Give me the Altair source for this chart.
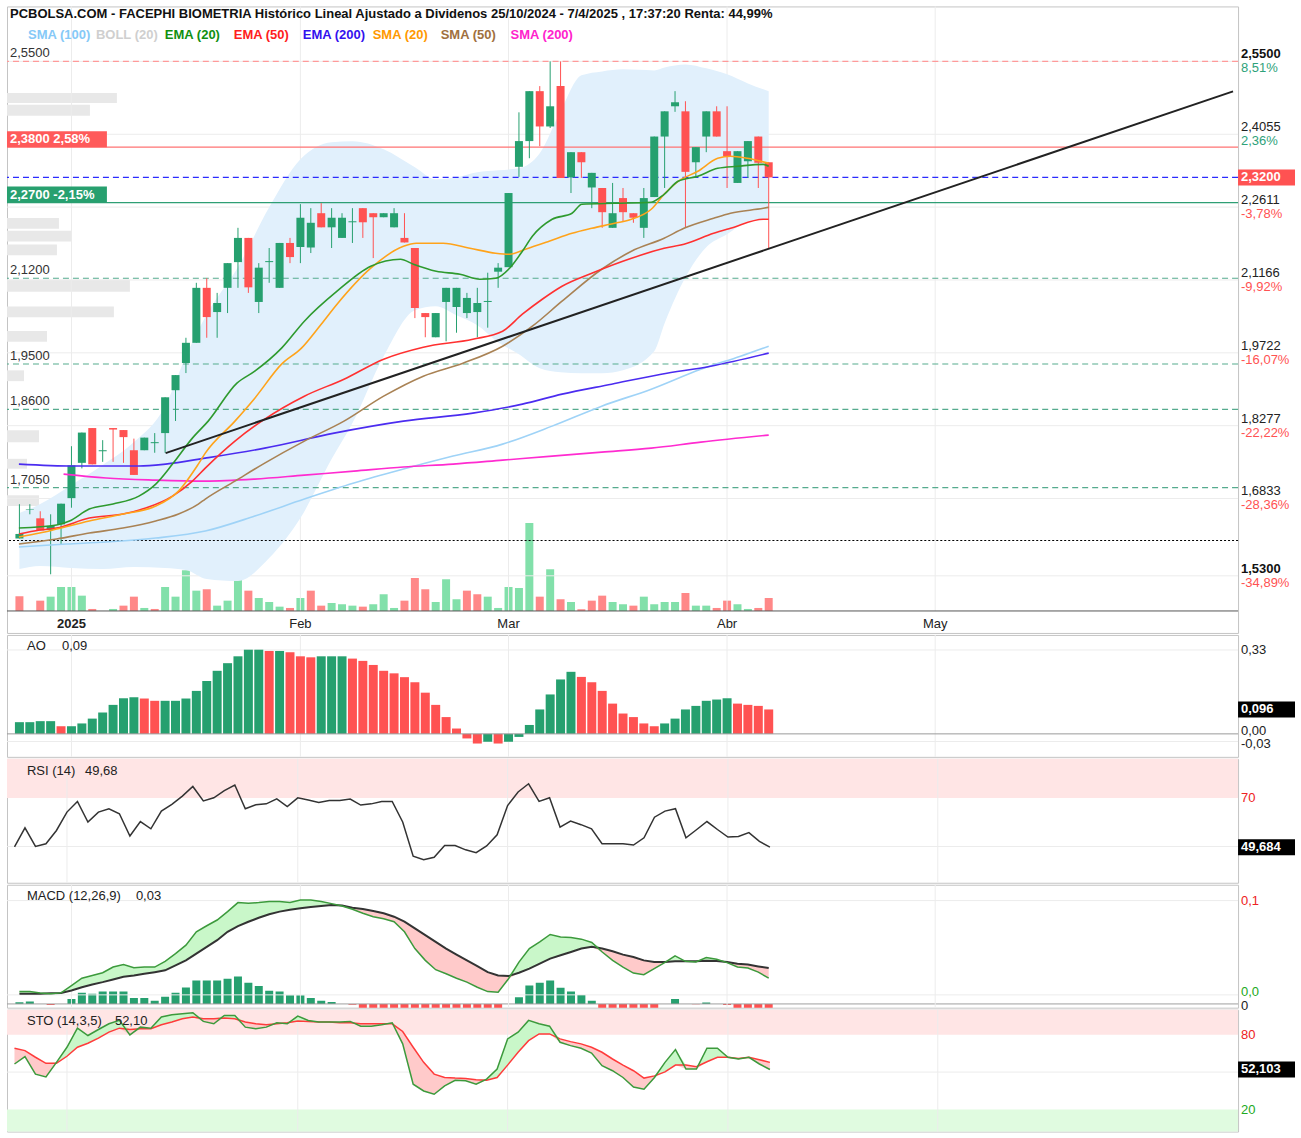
import altair as alt
import pandas as pd

# ------------------------------------------------------------------
# Data (x = trading-day index, 0 = 2 Jan 2025)
# ------------------------------------------------------------------
day = list(range(-5, 68))

open_p = [
    1.604, 1.661, 1.644, 1.621, 1.632, 1.684, 1.754, 1.823, 1.777, 1.823,
    1.819, 1.779, 1.779, 1.793, 1.813, 1.898, 1.952, 1.992, 2.101, 2.053,
    2.101, 2.152, 2.200, 2.073, 2.152, 2.101, 2.190, 2.182, 2.181, 2.249,
    2.221, 2.200, 2.231, 2.259, 2.249, 2.241, 2.221, 2.200, 2.180, 2.051,
    2.003, 2.073, 2.063, 2.051, 2.053, 2.073, 2.133, 2.142, 2.341, 2.392,
    2.491, 2.421, 2.501, 2.320, 2.370, 2.300, 2.299, 2.220, 2.279, 2.249,
    2.220, 2.281, 2.401, 2.461, 2.451, 2.350, 2.401, 2.451, 2.372, 2.309,
    2.352, 2.401, 2.350]
high_p = [
    1.672, 1.672, 1.658, 1.652, 1.673, 1.787, 1.814, 1.823, 1.799, 1.823,
    1.819, 1.802, 1.804, 1.813, 1.884, 1.928, 2.002, 2.111, 2.120, 2.091,
    2.150, 2.220, 2.200, 2.150, 2.180, 2.190, 2.200, 2.267, 2.259, 2.269,
    2.259, 2.249, 2.259, 2.259, 2.249, 2.249, 2.259, 2.249, 2.180, 2.051,
    2.051, 2.101, 2.101, 2.091, 2.101, 2.131, 2.150, 2.289, 2.449, 2.491,
    2.501, 2.550, 2.550, 2.370, 2.370, 2.329, 2.299, 2.309, 2.299, 2.249,
    2.299, 2.401, 2.451, 2.491, 2.471, 2.380, 2.451, 2.461, 2.461, 2.372,
    2.392, 2.401, 2.350]
low_p = [
    1.604, 1.652, 1.620, 1.533, 1.593, 1.665, 1.743, 1.751, 1.756, 1.756,
    1.754, 1.730, 1.779, 1.774, 1.774, 1.837, 1.932, 1.992, 2.002, 2.002,
    2.051, 2.101, 2.091, 2.051, 2.111, 2.101, 2.150, 2.150, 2.170, 2.221,
    2.180, 2.200, 2.190, 2.200, 2.160, 2.241, 2.221, 2.191, 2.041, 2.003,
    2.003, 1.995, 2.012, 2.041, 2.003, 2.022, 2.101, 2.142, 2.321, 2.358,
    2.382, 2.418, 2.319, 2.289, 2.319, 2.259, 2.220, 2.220, 2.233, 2.230,
    2.200, 2.281, 2.299, 2.450, 2.220, 2.319, 2.370, 2.401, 2.299, 2.309,
    2.319, 2.299, 2.178]
close_p = [
    1.613, 1.662, 1.620, 1.629, 1.673, 1.749, 1.814, 1.751, 1.779, 1.820,
    1.805, 1.730, 1.804, 1.795, 1.884, 1.928, 1.992, 2.101, 2.043, 2.071,
    2.150, 2.200, 2.102, 2.141, 2.154, 2.190, 2.162, 2.240, 2.230, 2.221,
    2.240, 2.240, 2.233, 2.231, 2.241, 2.249, 2.249, 2.191, 2.061, 2.043,
    2.051, 2.101, 2.101, 2.081, 2.071, 2.075, 2.141, 2.289, 2.392, 2.491,
    2.421, 2.461, 2.319, 2.370, 2.350, 2.329, 2.251, 2.249, 2.251, 2.240,
    2.279, 2.401, 2.451, 2.469, 2.331, 2.380, 2.451, 2.401, 2.362, 2.372,
    2.392, 2.349, 2.320]
# volume in thousands of shares
volume = [
    368, 0, 258, 358, 600, 600, 383, 50, 0, 50,
    133, 358, 75, 50, 600, 358, 1018, 508, 543, 133,
    258, 1018, 508, 325, 225, 108, 75, 325, 508, 133,
    200, 168, 133, 108, 168, 418, 75, 258, 825, 543,
    225, 793, 293, 508, 418, 358, 75, 600, 575, 2200,
    358, 1043, 293, 225, 43, 258, 383, 225, 168, 133,
    358, 168, 225, 225, 450, 133, 133, 75, 258, 168,
    50, 75, 325]
vol_dir = ("RRRGGGGRGG" "RRGRGGGGRG" "GGRGGGRGRR" "GGGRGGGRRR"
           "GGGRRGGGGG" "RGRGRRRGGR" "GGGGRGGRRG" "GRR")

# moving averages (day index, value)
sma100_x = [-5.05, -0.48, 3.33, 8.1, 12.86, 17.62, 22.38, 27.14, 31.9, 36.67, 41.43, 46.19, 50.95, 55.71, 60.48, 64.29, 67.0]
sma100_y = [1.5871, 1.5930, 1.5970, 1.6049, 1.6188, 1.6485, 1.6822, 1.7139, 1.7416, 1.7674, 1.7911, 1.8268, 1.8664, 1.9001, 1.9397, 1.9655, 1.9853]
ema20_x = [-5.05, -1.43, -0.19, 1.71, 4.0, 6.48, 8.1, 9.71, 11.62, 13.14, 15.9, 17.62, 20.19, 22.38, 25.52, 28.76, 31.62, 32.86, 35.05, 37.33, 39.24, 40.76, 42.1, 43.33, 44.29, 46.19, 48.1, 49.05, 52.19, 55.71, 56.95, 58.29, 60.19, 62.1, 64.0, 66.48, 67.0]
ema20_y = [1.6247, 1.6306, 1.6386, 1.6624, 1.6723, 1.6881, 1.7119, 1.7515, 1.8030, 1.8367, 1.9120, 1.9358, 1.9814, 2.0349, 2.0943, 2.1438, 2.1577, 2.1478, 2.1339, 2.1280, 2.1181, 2.1200, 2.1399, 2.1736, 2.2033, 2.2370, 2.2488, 2.2667, 2.2687, 2.2707, 2.2865, 2.3122, 2.3222, 2.3380, 2.3420, 2.3459, 2.3420]
ema50_x = [-5.05, -3.05, -1.43, 1.71, 4.95, 7.14, 9.71, 11.62, 12.86, 15.71, 18.57, 22.38, 26.19, 30.0, 33.81, 38.57, 41.43, 43.33, 45.24, 47.14, 50.0, 53.81, 56.95, 58.86, 61.71, 63.33, 66.48, 67.0]
ema50_y = [1.6128, 1.6208, 1.6247, 1.6445, 1.6524, 1.6643, 1.6881, 1.7178, 1.7436, 1.7971, 1.8407, 1.8862, 1.9199, 1.9596, 1.9833, 1.9992, 2.0150, 2.0487, 2.0784, 2.1042, 2.1300, 2.1597, 2.1795, 2.1874, 2.2092, 2.2191, 2.2370, 2.2370]
ema200_x = [-5.05, 0.19, 6.48, 9.05, 12.86, 18.57, 25.24, 31.9, 38.57, 43.33, 47.14, 51.9, 56.67, 61.43, 67.0]
ema200_y = [1.7515, 1.7476, 1.7476, 1.7515, 1.7634, 1.7832, 1.8129, 1.8367, 1.8526, 1.8704, 1.8902, 1.9100, 1.9298, 1.9457, 1.9715]
sma20_x = [-5.05, -3.05, -1.43, 1.71, 4.95, 8.1, 10.29, 12.19, 12.86, 15.71, 17.62, 20.19, 22.1, 24.0, 25.52, 28.76, 31.9, 33.14, 35.71, 38.29, 40.76, 42.1, 43.62, 45.9, 48.1, 50.0, 52.19, 53.81, 55.71, 56.95, 58.29, 60.19, 62.1, 63.33, 64.95, 67.0]
sma20_y = [1.6069, 1.6148, 1.6227, 1.6386, 1.6524, 1.6683, 1.6980, 1.7515, 1.7733, 1.8367, 1.8823, 1.9497, 1.9814, 2.0289, 2.0685, 2.1399, 2.1835, 2.1894, 2.1894, 2.1795, 2.1696, 2.1676, 2.1775, 2.1934, 2.2092, 2.2191, 2.2290, 2.2370, 2.2568, 2.2865, 2.3122, 2.3321, 2.3578, 2.3618, 2.3578, 2.3479]
sma50_x = [-5.05, -1.43, 1.71, 4.95, 8.1, 10.29, 12.19, 12.86, 15.71, 18.57, 22.38, 26.19, 30.0, 33.81, 37.62, 41.43, 44.29, 47.14, 50.95, 53.81, 56.95, 58.86, 61.71, 63.33, 66.48, 67.0]
sma50_y = [1.5930, 1.6029, 1.6148, 1.6247, 1.6386, 1.6524, 1.6723, 1.6822, 1.7178, 1.7535, 1.7971, 1.8367, 1.8862, 1.9259, 1.9516, 1.9853, 2.0249, 2.0745, 2.1379, 2.1736, 2.1993, 2.2191, 2.2389, 2.2488, 2.2587, 2.2607]
sma200_x = [-0.76, 3.33, 8.1, 12.86, 17.62, 22.38, 27.14, 31.9, 36.67, 41.43, 46.19, 50.95, 55.71, 60.48, 67.0]
sma200_y = [1.7317, 1.7238, 1.7198, 1.7178, 1.7218, 1.7297, 1.7376, 1.7456, 1.7515, 1.7594, 1.7674, 1.7753, 1.7832, 1.7951, 1.8090]

# Bollinger band (20)
band_x = [-5, -3, 0, 3, 6, 9, 11, 13, 16, 19, 22, 25, 27, 30, 33, 35, 37, 39, 41, 43, 45, 47, 49, 51, 53, 56, 57, 59, 61, 63, 65, 67]
band_up = [1.6544, 1.6723, 1.7099, 1.7495, 1.7951, 1.8664, 1.9655, 2.0487, 2.1419, 2.2607, 2.3558, 2.3895, 2.3915, 2.3757, 2.3400, 2.3162, 2.3202, 2.3301, 2.3340, 2.3380, 2.3677, 2.4510, 2.5223, 2.5302, 2.5342, 2.5322, 2.5381, 2.5441, 2.5362, 2.5243, 2.5064, 2.4906]
band_lo = [1.5435, 1.5494, 1.5455, 1.5435, 1.5475, 1.5455, 1.5415, 1.5237, 1.5197, 1.5653, 1.6445, 1.7614, 1.8328, 1.9655, 2.0567, 2.0646, 2.0467, 2.0269, 1.9932, 1.9695, 1.9417, 1.9338, 1.9318, 1.9318, 1.9378, 1.9754, 2.0309, 2.1220, 2.1815, 2.2072, 2.2330, 2.2389]

# volume-by-price profile (price range, relative volume)
vp_lo = [2.4747, 2.4490, 2.2211, 2.1953, 2.1676, 2.0943, 2.0428, 1.9933, 1.9140, 1.7911, 1.7376, 1.6624]
vp_hi = [2.4945, 2.4708, 2.2429, 2.2171, 2.1894, 2.1181, 2.0646, 2.0150, 1.9358, 1.8149, 1.7575, 1.6841]
vp_vol = [110, 83, 52, 65, 50, 123, 107, 40, 17, 32, 20, 32]

# trend line
trend_x = [9.05, 111.62]
trend_y = [1.7733, 2.4906]

# horizontal levels
lvl_solid = [2.38, 2.27]
lvl_solid_col = ["#ff7373", "#2e9e74"]
lvl_dash = [2.55, 2.32, 2.12, 1.95, 1.86, 1.705]
lvl_dash_col = ["#ff9a9a", "#2b2bff", "#56ab8e", "#56ab8e", "#56ab8e", "#56ab8e"]
lvl_dot = [1.60]
left_lvls = [2.55, 2.12, 1.95, 1.86, 1.705]
left_lbls = ["2,5500", "2,1200", "1,9500", "1,8600", "1,7050"]
left_box_lvls = [2.38, 2.27]
left_box_lbls = ["2,3800  2,58%", "2,2700  -2,15%"]
left_box_cols = ["#ff5a5a", "#27a06f"]

right_ticks = [2.55, 2.4055, 2.2611, 2.1166, 1.9722, 1.8277, 1.6833, 1.53]
right_lbls = ["2,5500", "2,4055", "2,2611", "2,1166", "1,9722", "1,8277", "1,6833", "1,5300"]
right_pct = ["8,51%", "2,36%", "-3,78%", "-9,92%", "-16,07%", "-22,22%", "-28,36%", "-34,89%"]
last_price = 2.32

month_idx = [0, 22, 42, 63, 83]
month_lbl = ["2025", "Feb", "Mar", "Abr", "May"]

# Awesome oscillator
ao = [
    0.046, 0.046, 0.050, 0.050, 0.030, 0.030, 0.041, 0.060, 0.084, 0.114,
    0.140, 0.144, 0.139, 0.130, 0.130, 0.130, 0.139, 0.169, 0.208, 0.248,
    0.278, 0.305, 0.331, 0.331, 0.326, 0.326, 0.321, 0.305, 0.301, 0.305,
    0.305, 0.305, 0.296, 0.287, 0.271, 0.248, 0.238, 0.223, 0.203, 0.162,
    0.114, 0.066, 0.021, -0.018, -0.038, -0.031, -0.038, -0.031, -0.012, 0.035,
    0.096, 0.155, 0.214, 0.244, 0.224, 0.203, 0.169, 0.119, 0.080, 0.066,
    0.041, 0.030, 0.041, 0.060, 0.096, 0.110, 0.130, 0.135, 0.140, 0.119,
    0.114, 0.110, 0.096]
ao_dir = ("GGGGRGGGGG" "GGRRGGGGGG" "GGGGRGRRRG" "GGRRRRRRRR"
          "RRRRRGRGGG" "GGGGRRRRRR" "RRGGGGGGGR" "RRR")

rsi = [
    49.8, 57.7, 50.0, 51.1, 56.6, 64.2, 68.6, 60.1, 64.2, 65.6,
    63.5, 54.3, 60.3, 57.3, 64.6, 67.4, 70.8, 74.8, 68.8, 70.1,
    73.1, 75.4, 65.6, 67.2, 67.6, 69.7, 66.5, 70.1, 69.2, 68.2,
    69.0, 69.0, 69.6, 67.1, 67.6, 68.6, 68.6, 60.1, 46.0, 44.5,
    45.5, 50.4, 50.4, 48.6, 47.4, 50.2, 54.8, 66.9, 72.5, 75.9,
    68.6, 70.1, 58.0, 60.5, 59.0, 57.3, 51.1, 51.1, 51.1, 50.6,
    53.6, 62.1, 64.6, 65.6, 53.6, 56.9, 60.3, 57.0, 53.9, 54.1,
    55.7, 52.1, 49.7]

macd = [
    0.0035, 0.0035, 0.0021, 0.0011, 0.0021, 0.0099, 0.0177, 0.0206, 0.0235, 0.0295,
    0.0321, 0.0288, 0.0295, 0.0295, 0.0356, 0.0438, 0.0527, 0.0669, 0.0733, 0.0794,
    0.0883, 0.0979, 0.0972, 0.0979, 0.0990, 0.0990, 0.0979, 0.1007, 0.1007, 0.0990,
    0.0968, 0.0943, 0.0908, 0.0865, 0.0829, 0.0808, 0.0776, 0.0669, 0.0491, 0.0366,
    0.0267, 0.0224, 0.0177, 0.0135, 0.0081, 0.0035, 0.0028, 0.0171, 0.0348, 0.0491,
    0.0562, 0.0641, 0.0615, 0.0609, 0.0591, 0.0556, 0.0455, 0.0366, 0.0295, 0.0231,
    0.0214, 0.0278, 0.0342, 0.0413, 0.0356, 0.0348, 0.0395, 0.0377, 0.0342, 0.0295,
    0.0284, 0.0241, 0.0177]
signal = [
    0.0011, 0.0011, 0.0011, 0.0016, 0.0021, 0.0046, 0.0081, 0.0110, 0.0135, 0.0163,
    0.0192, 0.0206, 0.0224, 0.0241, 0.0260, 0.0313, 0.0366, 0.0438, 0.0509, 0.0580,
    0.0669, 0.0730, 0.0776, 0.0818, 0.0855, 0.0883, 0.0904, 0.0919, 0.0933, 0.0943,
    0.0954, 0.0947, 0.0925, 0.0911, 0.0890, 0.0865, 0.0829, 0.0776, 0.0705, 0.0634,
    0.0562, 0.0491, 0.0427, 0.0366, 0.0306, 0.0241, 0.0206, 0.0199, 0.0235, 0.0278,
    0.0331, 0.0385, 0.0420, 0.0455, 0.0491, 0.0509, 0.0491, 0.0463, 0.0427, 0.0402,
    0.0366, 0.0348, 0.0348, 0.0356, 0.0356, 0.0356, 0.0363, 0.0360, 0.0348, 0.0331,
    0.0321, 0.0302, 0.0284]
hist = [
    0.0018, 0.0025, 0.0, -0.0011, 0.0, 0.0053, 0.0118, 0.0107, 0.0131, 0.0131,
    0.0131, 0.0064, 0.0064, 0.0035, 0.0075, 0.0118, 0.0174, 0.0249, 0.0249, 0.0249,
    0.0267, 0.0292, 0.0224, 0.0189, 0.0139, 0.0131, 0.0093, 0.0093, 0.0064, 0.0035,
    0.0021, 0.0, -0.0008, -0.006, -0.006, -0.006, -0.006, -0.006, -0.006, -0.006,
    -0.006, -0.006, -0.006, -0.006, -0.006, -0.006, -0.006, 0.0, 0.0071, 0.0196,
    0.0224, 0.0249, 0.0171, 0.0131, 0.0096, 0.0035, -0.006, -0.006, -0.006, -0.006,
    -0.006, -0.006, 0.0, 0.0053, 0.0, -0.0003, 0.0014, 0.0, -0.0011, -0.006,
    -0.006, -0.006, -0.006]

sto_k = [
    56.5, 62.4, 48.4, 46.2, 57.8, 69.9, 85.2, 79.3, 84.1, 88.7,
    91.4, 79.8, 86.0, 85.2, 94.1, 96.0, 96.8, 97.6, 90.6, 88.7,
    95.4, 95.4, 86.0, 84.7, 86.0, 89.5, 88.7, 94.9, 91.4, 90.1,
    90.1, 90.1, 90.6, 86.8, 86.8, 87.9, 89.5, 72.6, 40.3, 34.9,
    32.3, 39.0, 43.5, 43.0, 40.3, 44.4, 52.4, 76.6, 82.0, 91.4,
    88.7, 86.8, 73.9, 71.2, 69.1, 65.3, 55.1, 51.1, 45.7, 38.1,
    36.3, 45.7, 57.8, 68.0, 52.4, 52.4, 69.1, 69.1, 61.9, 60.5,
    61.9, 56.5, 52.1]
sto_d = [
    69.1, 67.2, 61.9, 57.0, 57.0, 62.7, 69.9, 73.1, 77.2, 82.0,
    85.2, 84.1, 84.7, 84.7, 87.9, 90.1, 92.7, 94.1, 92.7, 92.7,
    93.3, 92.7, 90.1, 88.7, 87.9, 88.7, 89.5, 90.9, 90.6, 90.1,
    90.1, 89.5, 89.5, 88.7, 88.7, 88.7, 88.7, 82.5, 69.9, 57.8,
    48.4, 45.7, 45.2, 44.9, 43.8, 43.5, 45.7, 55.6, 65.9, 75.2,
    80.6, 80.6, 76.6, 74.4, 72.6, 69.9, 65.9, 60.5, 55.6, 51.1,
    45.2, 47.0, 50.2, 55.6, 55.6, 54.3, 58.3, 61.9, 61.9, 61.0,
    61.9, 59.9, 57.8]

TITLE = ("PCBOLSA.COM - FACEPHI BIOMETRIA Histórico Lineal Ajustado a Dividenos "
         "25/10/2024 - 7/4/2025 , 17:37:20 Renta: 44,99%")
legend_lbl = ["SMA (100)", "BOLL (20)", "EMA (20)", "EMA (50)", "EMA (200)", "SMA (20)", "SMA (50)", "SMA (200)"]
legend_col = ["#86c9f7", "#cfcfcf", "#109010", "#ff2020", "#3311ee", "#ff9900", "#a0703e", "#ff22cc"]

# ------------------------------------------------------------------
# Layout / style
# ------------------------------------------------------------------
FONT = "Liberation Sans"
GREEN = "#26a06f"
RED = "#ff5252"
VOL_GREEN = "#82e0aa"
VOL_RED = "#ff8888"
GRID = "#ececec"
W = 1232
H_PLOT = 605                     # price + volume area
H_MAIN = 627                     # plus the month label row
H_AO, H_RSI, H_MACD, H_STO = 122, 124, 123, 122
X_DOM = [-5.714, 111.62]
P_DOM = [1.4167, 2.659]
VOL_DOM = [-550, 15125]
AO_DOM = [-0.0904, 0.389]
RSI_DOM = [35.0, 86.2]
MACD_DOM = [-0.01357, 0.1168]
HIST_DOM = [-0.00395, 0.1264]
STO_DOM = [2.4, 100]
legend_px = [21, 89, 158, 227, 296, 366, 434, 504]

YAX = alt.Axis(orient="right", labels=False, ticks=False, grid=False, domain=True,
               domainColor="#000000", domainWidth=1, title=None)
LIT = lambda f: alt.Color(f"{f}:N", scale=None)


def xenc(field):
    return alt.X(f"{field}:Q", scale=alt.Scale(domain=X_DOM, nice=False, zero=False), axis=None)


def yenc(field, dom, axis=None):
    return alt.Y(f"{field}:Q", scale=alt.Scale(domain=dom, nice=False, zero=False), axis=axis)


def text_layer(df, x, y, color="#222222", size=13, weight="normal", align="left",
               baseline="middle", dy=0):
    return alt.Chart(df).mark_text(font=FONT, fontSize=size, fontWeight=weight, align=align,
                                   baseline=baseline, dy=dy, color=color).encode(x=x, y=y, text="t:N")


def right_box(value, label, dom, half, fill):
    d = pd.DataFrame({"v": [value], "t": [label]})
    base = alt.Chart(d).transform_calculate(lo=f"datum.v - {half}", hi=f"datum.v + {half}")
    r = base.mark_rect(color=fill).encode(x=alt.value(W), x2=alt.value(W + 57),
                                          y=yenc("lo", dom), y2="hi:Q")
    t = base.mark_text(font=FONT, fontSize=13, fontWeight="bold", color="white", align="left",
                       baseline="middle").encode(x=alt.value(W + 3), y=yenc("v", dom), text="t:N")
    return [r, t]


def vrules(h=None):
    ch = alt.Chart(pd.DataFrame({"m": month_idx})).mark_rule(color=GRID)
    if h is None:
        return ch.encode(x=xenc("m"))
    return ch.encode(x=xenc("m"), y=alt.value(0), y2=alt.value(h))


def panel_title(name, value, value_px, h_top=11):
    return [
        text_layer(pd.DataFrame({"t": [name]}), alt.value(20), alt.value(h_top)),
        text_layer(pd.DataFrame({"t": [value]}), alt.value(value_px), alt.value(h_top)),
    ]


# ------------------------------------------------------------------
# Main price panel
# ------------------------------------------------------------------
cdf = pd.DataFrame({"idx": day, "o": open_p, "h": high_p, "l": low_p, "c": close_p, "v": volume})
cdf["cc"] = [GREEN if c >= o else RED for o, c in zip(open_p, close_p)]
cdf["vc"] = [VOL_GREEN if d == "G" else VOL_RED for d in vol_dir]

profile = alt.Chart(pd.DataFrame({"lo": vp_lo, "hi": vp_hi, "pv": vp_vol})).mark_bar(
    orient="horizontal", color="#e8e8e8", opacity=1).encode(
    x=alt.X("pv:Q", scale=alt.Scale(domain=[0, W]), axis=None),
    y=yenc("lo", P_DOM), y2="hi:Q")

vol = alt.Chart(cdf).mark_bar(size=8, opacity=1).encode(
    x=xenc("idx"),
    y=alt.Y("v:Q", scale=alt.Scale(domain=VOL_DOM, nice=False, zero=False), axis=None),
    y2=alt.datum(0), color=LIT("vc"))

hgrid = alt.Chart(pd.DataFrame({"v": right_ticks})).mark_rule(color=GRID).encode(y=yenc("v", P_DOM, YAX))
band = alt.Chart(pd.DataFrame({"x": band_x, "up": band_up, "lo": band_lo})).mark_area(
    color="#e1f0fc", opacity=1, interpolate="monotone").encode(x=xenc("x"), y=yenc("up", P_DOM), y2="lo:Q")

lv_solid = alt.Chart(pd.DataFrame({"v": lvl_solid, "c": lvl_solid_col})).mark_rule(strokeWidth=1.2).encode(
    y=yenc("v", P_DOM), color=LIT("c"))
lv_dash = alt.Chart(pd.DataFrame({"v": lvl_dash, "c": lvl_dash_col})).mark_rule(
    strokeWidth=1.2, strokeDash=[6, 4]).encode(y=yenc("v", P_DOM), color=LIT("c"))
lv_dot = alt.Chart(pd.DataFrame({"v": lvl_dot})).mark_rule(
    strokeWidth=1.2, strokeDash=[2, 2], color="#000000").encode(y=yenc("v", P_DOM))


def ma_line(xs, ys, color, width=1.6):
    return alt.Chart(pd.DataFrame({"x": xs, "y": ys})).mark_line(
        color=color, strokeWidth=width, interpolate="monotone").encode(x=xenc("x"), y=yenc("y", P_DOM))


mas = [
    ma_line(sma100_x, sma100_y, "#9fd3f7"),
    ma_line(sma200_x, sma200_y, "#ff2bd0"),
    ma_line(ema200_x, ema200_y, "#4b2cf0"),
    ma_line(sma50_x, sma50_y, "#a98254"),
    ma_line(ema50_x, ema50_y, "#ff3030"),
    ma_line(sma20_x, sma20_y, "#ffa31a"),
    ma_line(ema20_x, ema20_y, "#2e9a2e"),
]
trend = alt.Chart(pd.DataFrame({"x": trend_x, "y": trend_y})).mark_line(
    color="#222222", strokeWidth=2, clip=True).encode(x=xenc("x"), y=yenc("y", P_DOM))

wick = alt.Chart(cdf).mark_rule(strokeWidth=1).encode(x=xenc("idx"), y=yenc("l", P_DOM), y2="h:Q", color=LIT("cc"))
body = alt.Chart(cdf).mark_bar(size=8, opacity=1).encode(x=xenc("idx"), y=yenc("o", P_DOM), y2="c:Q", color=LIT("cc"))

texts = []
texts.append(text_layer(pd.DataFrame({"t": [TITLE]}), alt.value(3), alt.value(8), color="#111111", weight="bold"))
for px, lbl, col in zip(legend_px, legend_lbl, legend_col):
    texts.append(text_layer(pd.DataFrame({"t": [lbl]}), alt.value(px), alt.value(29), color=col, weight="bold"))
texts.append(text_layer(pd.DataFrame({"v": left_lvls, "t": left_lbls}), alt.value(3), yenc("v", P_DOM),
                        color="#333333", baseline="bottom", dy=-1))
lb = alt.Chart(pd.DataFrame({"v": left_box_lvls, "t": left_box_lbls, "c": left_box_cols})).transform_calculate(
    hi="datum.v + 0.0317", mid="datum.v + 0.0159")
texts.append(lb.mark_rect().encode(x=alt.value(0), x2=alt.value(100), y=yenc("v", P_DOM), y2="hi:Q",
                                   color=LIT("c")))
texts.append(lb.mark_text(font=FONT, fontSize=13, fontWeight="bold", color="white", align="left",
                          baseline="middle").encode(x=alt.value(3), y=yenc("mid", P_DOM), text="t:N"))
rdf = pd.DataFrame({"v": right_ticks, "t": right_lbls, "p": right_pct})
rdf["pc"] = ["#2ea27a" if not s.startswith("-") else "#ff5252" for s in right_pct]
ends = rdf.iloc[[0, len(rdf) - 1]]
mids = rdf.iloc[1:len(rdf) - 1]
texts.append(text_layer(ends, alt.value(W + 3), yenc("v", P_DOM), color="#111111", weight="bold", baseline="bottom"))
texts.append(text_layer(mids, alt.value(W + 3), yenc("v", P_DOM), color="#222222", baseline="bottom"))
texts.append(alt.Chart(rdf).mark_text(font=FONT, fontSize=13, align="left", baseline="top", dy=1).encode(
    x=alt.value(W + 3), y=yenc("v", P_DOM), text="p:N", color=LIT("pc")))
texts += right_box(last_price, "2,3200", P_DOM, 0.0159, "#ff5252")

mlab = pd.DataFrame({"m": month_idx, "t": month_lbl})
texts.append(alt.Chart(mlab.iloc[:1]).mark_text(font=FONT, fontSize=13, fontWeight="bold", color="#222222",
                                                align="center", baseline="middle").encode(
    x=xenc("m"), y=alt.value(H_PLOT + 13), text="t:N"))
texts.append(alt.Chart(mlab.iloc[1:]).mark_text(font=FONT, fontSize=13, color="#222222",
                                                align="center", baseline="middle").encode(
    x=xenc("m"), y=alt.value(H_PLOT + 13), text="t:N"))
texts.append(alt.Chart(pd.DataFrame({"a": [0]})).mark_rule(color="#555555").encode(
    x=alt.value(0), x2=alt.value(W), y=alt.value(H_PLOT)))

price = alt.layer(vrules(H_PLOT), hgrid, band, lv_solid, lv_dash, lv_dot, wick, body, *mas, trend, *texts)
main = alt.layer(profile, vol, price).resolve_scale(x="independent", y="independent").properties(
    width=W, height=H_MAIN)

# ------------------------------------------------------------------
# AO panel
# ------------------------------------------------------------------
ao_df = pd.DataFrame({"idx": day, "ao": ao})
ao_df["ac"] = [GREEN if d == "G" else RED for d in ao_dir]
ao_bars = alt.Chart(ao_df).mark_bar(size=9, opacity=1).encode(
    x=xenc("idx"), y=yenc("ao", AO_DOM, YAX), y2=alt.datum(0), color=LIT("ac"))
ao_grid = alt.Chart(pd.DataFrame({"v": [0.33, -0.03]})).mark_rule(color=GRID).encode(y=yenc("v", AO_DOM))
ao_zero = alt.Chart(pd.DataFrame({"v": [0.0]})).mark_rule(color="#9a9a9a").encode(y=yenc("v", AO_DOM))
ao_lbl_top = text_layer(pd.DataFrame({"v": [0.33], "t": ["0,33"]}), alt.value(W + 3), yenc("v", AO_DOM))
ao_lbl_zero = text_layer(pd.DataFrame({"v": [0.0], "t": ["0,00"]}), alt.value(W + 3), yenc("v", AO_DOM), dy=-3)
ao_lbl_neg = text_layer(pd.DataFrame({"v": [-0.03], "t": ["-0,03"]}), alt.value(W + 3), yenc("v", AO_DOM), dy=3)
ao_panel = alt.layer(vrules(), ao_grid, ao_bars, ao_zero, ao_lbl_top, ao_lbl_zero, ao_lbl_neg,
                     *right_box(0.096, "0,096", AO_DOM, 0.0314, "#000000"),
                     *panel_title("AO", "0,09", 55)).properties(width=W, height=H_AO)

# ------------------------------------------------------------------
# RSI panel
# ------------------------------------------------------------------
rsi_df = pd.DataFrame({"idx": day, "r": rsi})
rsi_zone = alt.Chart(pd.DataFrame({"lo": [70.0], "hi": [RSI_DOM[1]]})).mark_rect(color="#ffe5e5").encode(
    x=alt.value(0), x2=alt.value(W), y=yenc("lo", RSI_DOM, YAX), y2="hi:Q")
rsi_grid = alt.Chart(pd.DataFrame({"v": [50.0]})).mark_rule(color=GRID).encode(y=yenc("v", RSI_DOM))
rsi_line = alt.Chart(rsi_df).mark_line(color="#333333", strokeWidth=1.5).encode(x=xenc("idx"), y=yenc("r", RSI_DOM))
rsi_lbl = text_layer(pd.DataFrame({"v": [70.0], "t": ["70"]}), alt.value(W + 3), yenc("v", RSI_DOM), color="#ee2222")
rsi_panel = alt.layer(rsi_zone, vrules(), rsi_grid, rsi_line, rsi_lbl,
                      *right_box(49.684, "49,684", RSI_DOM, 3.3, "#000000"),
                      *panel_title("RSI (14)", "49,68", 78, 12)).properties(width=W, height=H_RSI)

# ------------------------------------------------------------------
# MACD panel
# ------------------------------------------------------------------
mdf = pd.DataFrame({"idx": day, "m": macd, "s": signal})
mbase = alt.Chart(mdf).transform_calculate(hi="max(datum.m, datum.s)", lo="min(datum.m, datum.s)")
m_up = mbase.mark_area(color="#c9f7c9", opacity=1).encode(x=xenc("idx"), y=yenc("hi", MACD_DOM), y2="s:Q")
m_dn = mbase.mark_area(color="#ffcaca", opacity=1).encode(x=xenc("idx"), y=yenc("s", MACD_DOM), y2="lo:Q")
m_grid = alt.Chart(pd.DataFrame({"v": [0.1, 0.0]})).mark_rule(color=GRID).encode(y=yenc("v", MACD_DOM, YAX))
m_sig = alt.Chart(mdf).mark_line(color="#333333", strokeWidth=2).encode(x=xenc("idx"), y=yenc("s", MACD_DOM))
m_line = alt.Chart(mdf).mark_line(color="#3c9a3c", strokeWidth=1.5).encode(x=xenc("idx"), y=yenc("m", MACD_DOM))
m_lbl1 = text_layer(pd.DataFrame({"v": [0.1], "t": ["0,1"]}), alt.value(W + 3), yenc("v", MACD_DOM), color="#ee2222")
m_lbl2 = text_layer(pd.DataFrame({"v": [0.0], "t": ["0,0"]}), alt.value(W + 3), yenc("v", MACD_DOM),
                    color="#22aa22", dy=-3)
hdf = pd.DataFrame({"idx": day, "hv": hist})
hdf["hc"] = [GREEN if v >= 0 else RED for v in hist]
h_bars = alt.Chart(hdf).mark_bar(size=8, clip=True, opacity=1).encode(
    x=xenc("idx"), y=yenc("hv", HIST_DOM), y2=alt.datum(0), color=LIT("hc"))
h_zero = alt.Chart(pd.DataFrame({"v": [0.0]})).mark_rule(color="#a0a0a0").encode(y=yenc("v", HIST_DOM))
h_lbl = text_layer(pd.DataFrame({"v": [0.0], "t": ["0"]}), alt.value(W + 3), yenc("v", HIST_DOM), dy=2)
hist_group = alt.layer(h_bars, h_zero, h_lbl)
line_group = alt.layer(vrules(), m_grid, m_up, m_dn, m_sig, m_line, m_lbl1, m_lbl2,
                       *panel_title("MACD (12,26,9)", "0,03", 129))
macd_panel = alt.layer(hist_group, line_group).resolve_scale(y="independent").properties(width=W, height=H_MACD)

# ------------------------------------------------------------------
# Stochastic panel
# ------------------------------------------------------------------
sdf = pd.DataFrame({"idx": day, "k": sto_k, "d": sto_d})
sbase = alt.Chart(sdf).transform_calculate(hi="max(datum.k, datum.d)", lo="min(datum.k, datum.d)")
s_zone_hi = alt.Chart(pd.DataFrame({"lo": [80.0], "hi": [STO_DOM[1]]})).mark_rect(color="#ffe5e5").encode(
    x=alt.value(0), x2=alt.value(W), y=yenc("lo", STO_DOM, YAX), y2="hi:Q")
s_zone_lo = alt.Chart(pd.DataFrame({"lo": [STO_DOM[0]], "hi": [20.0]})).mark_rect(color="#e0fbe0").encode(
    x=alt.value(0), x2=alt.value(W), y=yenc("lo", STO_DOM), y2="hi:Q")
s_grid = alt.Chart(pd.DataFrame({"v": [50.0]})).mark_rule(color=GRID).encode(y=yenc("v", STO_DOM))
s_up = sbase.mark_area(color="#c9f7c9", opacity=1).encode(x=xenc("idx"), y=yenc("hi", STO_DOM), y2="d:Q")
s_dn = sbase.mark_area(color="#ffcaca", opacity=1).encode(x=xenc("idx"), y=yenc("d", STO_DOM), y2="lo:Q")
s_d = alt.Chart(sdf).mark_line(color="#ff3b3b", strokeWidth=1.5).encode(x=xenc("idx"), y=yenc("d", STO_DOM))
s_k = alt.Chart(sdf).mark_line(color="#3c9a3c", strokeWidth=1.5).encode(x=xenc("idx"), y=yenc("k", STO_DOM))
s_lbl1 = text_layer(pd.DataFrame({"v": [80.0], "t": ["80"]}), alt.value(W + 3), yenc("v", STO_DOM), color="#ee2222")
s_lbl2 = text_layer(pd.DataFrame({"v": [20.0], "t": ["20"]}), alt.value(W + 3), yenc("v", STO_DOM), color="#22aa22")
sto_panel = alt.layer(s_zone_hi, s_zone_lo, vrules(), s_grid, s_up, s_dn, s_d, s_k, s_lbl1, s_lbl2,
                      *right_box(52.103, "52,103", STO_DOM, 6.4, "#000000"),
                      *panel_title("STO (14,3,5)", "52,10", 108)).properties(width=W, height=H_STO)

chart = alt.vconcat(main, ao_panel, rsi_panel, macd_panel, sto_panel, spacing=2, bounds="flush").properties(
    padding={"left": 5, "top": 5, "right": 5, "bottom": 0}
).configure_view(stroke="#c4c4c4", strokeWidth=1)

chart.save("out.html", embed_options={"renderer": "svg", "actions": False})
